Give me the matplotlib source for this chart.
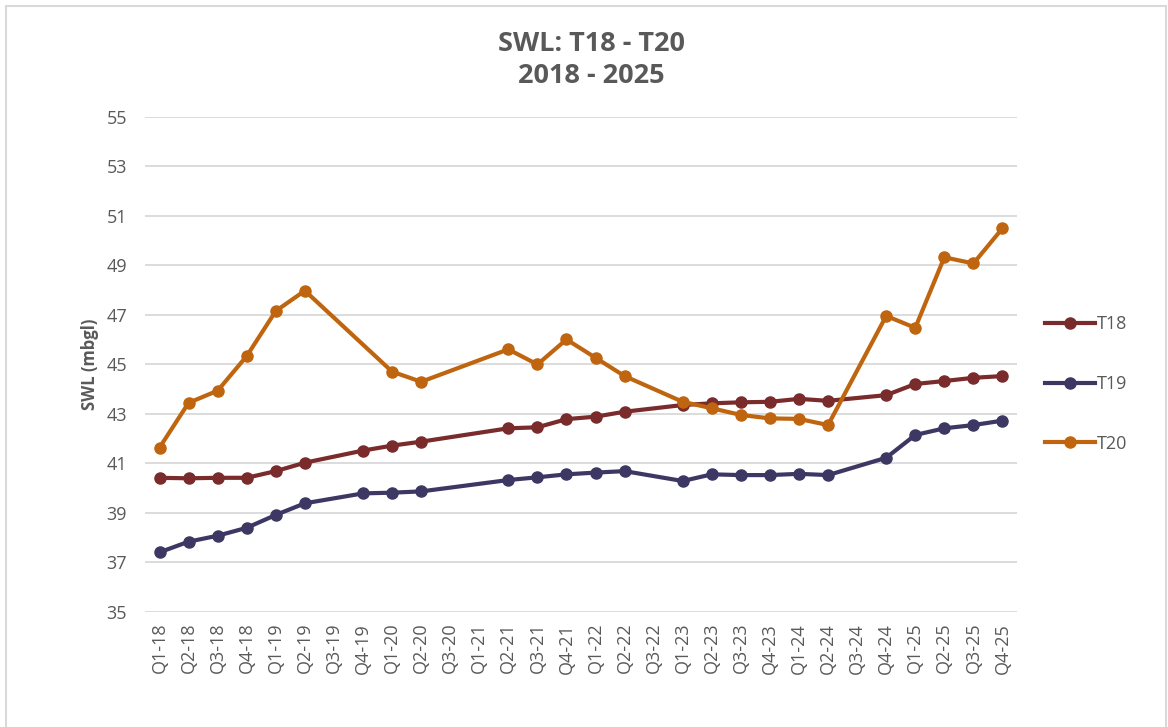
import numpy as np
import matplotlib
matplotlib.use("Agg")
import matplotlib.pyplot as plt

quarters = [
    "Q1-18", "Q2-18", "Q3-18", "Q4-18", "Q1-19", "Q2-19", "Q3-19", "Q4-19",
    "Q1-20", "Q2-20", "Q3-20", "Q1-21", "Q2-21", "Q3-21", "Q4-21", "Q1-22",
    "Q2-22", "Q3-22", "Q1-23", "Q2-23", "Q3-23", "Q4-23", "Q1-24", "Q2-24",
    "Q3-24", "Q4-24", "Q1-25", "Q2-25", "Q3-25", "Q4-25",
]

nan = np.nan
t18 = [40.41, 40.39, 40.41, 40.41, 40.68, 41.02, nan, 41.51,
       41.71, 41.87, nan, nan, 42.41, 42.45, 42.78, 42.88,
       43.08, nan, 43.35, 43.42, 43.46, 43.48, 43.60, 43.52,
       nan, 43.75, 44.20, 44.32, 44.45, 44.52]
t19 = [37.40, 37.83, 38.07, 38.39, 38.91, 39.38, nan, 39.78,
       39.81, 39.86, nan, nan, 40.32, 40.43, 40.55, 40.62,
       40.68, nan, 40.28, 40.55, 40.52, 40.52, 40.57, 40.52,
       nan, 41.22, 42.14, 42.41, 42.54, 42.72]
t20 = [41.63, 43.44, 43.93, 45.33, 47.15, 47.97, nan, nan,
       44.70, 44.29, nan, nan, 45.60, 44.99, 46.00, 45.26,
       44.52, nan, 43.48, 43.22, 42.95, 42.81, 42.79, 42.54,
       nan, 46.95, 46.47, 49.32, 49.07, 50.49]

series = [("T18", t18, "#7a2b2b"), ("T19", t19, "#3d3863"), ("T20", t20, "#c0650f")]

plt.rcParams["font.family"] = ["Open Sans", "DejaVu Sans"]
grey = "#595959"

fig = plt.figure(figsize=(11.68, 7.27), dpi=100)
ax = fig.add_axes([145 / 1168, 1 - 611.7 / 727, 872 / 1168, 495 / 727])

x = np.arange(len(quarters))
for name, vals, col in series:
    v = np.array(vals, dtype=float)
    ok = ~np.isnan(v)
    ax.plot(x[ok], v[ok], color=col, lw=3.0, marker="o", ms=8,
            label=name, zorder=3)

ax.set_xlim(-0.5, len(quarters) - 0.5)
ax.set_ylim(35, 55)
ax.set_yticks(np.arange(35, 56, 2))
ax.set_xticks(x)
ax.set_xticklabels(quarters, rotation=90)
ax.tick_params(axis="both", length=0, colors=grey, labelsize=13)
ax.tick_params(axis="x", pad=8)
ax.tick_params(axis="y", pad=13)
ax.grid(axis="y", color="#d9d9d9", lw=1.3)
ax.set_axisbelow(True)
for s in ax.spines.values():
    s.set_visible(False)

ax.set_ylabel("SWL (mbgl)", fontsize=12, fontweight="bold", color=grey,
              labelpad=5)

fig.text(591 / 1168, 1 - 44 / 727, "SWL: T18 - T20", ha="center", va="center",
         fontsize=19.5, fontweight="bold", color=grey)
fig.text(591 / 1168, 1 - 76 / 727, "2018 - 2025", ha="center", va="center",
         fontsize=19.5, fontweight="bold", color=grey)

leg = fig.legend(loc="center left", bbox_to_anchor=(1029 / 1168, 1 - 384 / 727),
                 frameon=False, fontsize=13, handlelength=2.75,
                 handletextpad=0.1, labelspacing=2.3, labelcolor=grey)

# light outer border
fig.add_artist(plt.Rectangle((6 / 1168, -0.01), 1160 / 1168, 1 - 6 / 727 + 0.01,
                             transform=fig.transFigure, fill=False,
                             edgecolor="#d9d9d9", lw=1.5))

fig.savefig("out.png", dpi=100, facecolor="white")
